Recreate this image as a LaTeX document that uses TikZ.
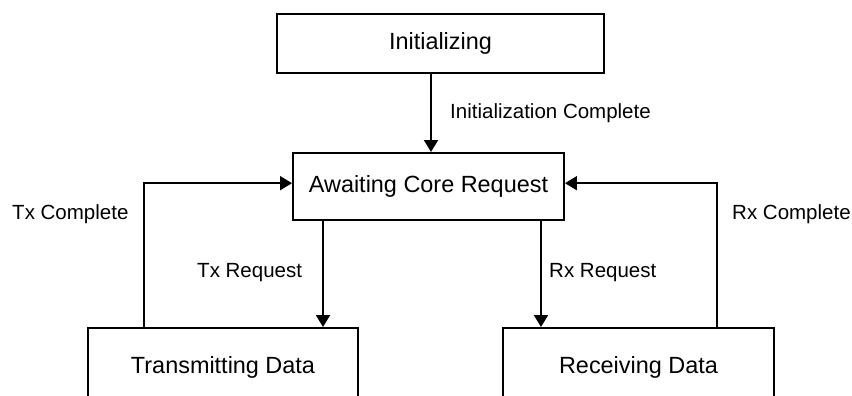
\documentclass[tikz,border=0pt]{standalone}
\usepackage{fontspec}
\setmainfont{Liberation Sans}
\usetikzlibrary{arrows.meta}

\begin{document}
\begin{tikzpicture}[
        statenode/.style={
            rectangle,
            draw,
            line width=1.7pt,
            align=center,
            minimum height=1.77cm,
            font=\fontsize{20}{24}\selectfont
        },
        lbl/.style={
            inner sep=0pt,
            anchor=base west,
            font=\fontsize{17.5}{21}\selectfont
        },
        arrow/.style={
            -{Triangle[length=0.36cm,width=0.42cm]},
            line width=1.7pt
        }
    ]

        \useasboundingbox (0,0) rectangle (25.56,11.85);
        \clip (0,0) rectangle (25.56,11.85);

        % States
        \node[statenode, minimum width=9.81cm] (init) at (13.215,10.545) {Initializing};
        \node[statenode, minimum width=8.13cm, minimum height=2.01cm] (await) at (12.855,6.255)
            {Awaiting Core Request};
        \node[statenode, minimum width=8.1cm, minimum height=2.34cm] (txd) at (6.69,0.84)
            {Transmitting Data};
        \node[statenode, minimum width=8.13cm, minimum height=2.34cm] (rxd) at (19.155,0.84)
            {Receiving Data};

        % Startup
        \draw[arrow] ([xshift=-2.85mm]init.south) -- ([xshift=0.75mm]await.north);
        \node[lbl] (initdone) at (13.5,8.31) {Initialization Complete};

        % Requests from the core
        \draw[arrow] ([xshift=-31.65mm]await.south) -- ([xshift=-31.65mm]await.south |- txd.north);
        \draw[arrow] ([xshift=33.75mm]await.south) -- ([xshift=33.75mm]await.south |- rxd.north);
        \node[lbl] (txreq) at (5.91,3.54) {Tx Request};
        \node[lbl] (rxreq) at (16.47,3.54) {Rx Request};

        % Back to waiting
        \draw[arrow] ([xshift=-23.7mm]txd.north) |- ([yshift=1mm]await.west);
        \draw[arrow] ([xshift=23.55mm]rxd.north) |- ([yshift=1mm]await.east);
        \node[lbl] (txdone) at (0.36,5.28) {Tx Complete};
        \node[lbl] (rxdone) at (21.96,5.28) {Rx Complete};

    \end{tikzpicture}
\end{document}
